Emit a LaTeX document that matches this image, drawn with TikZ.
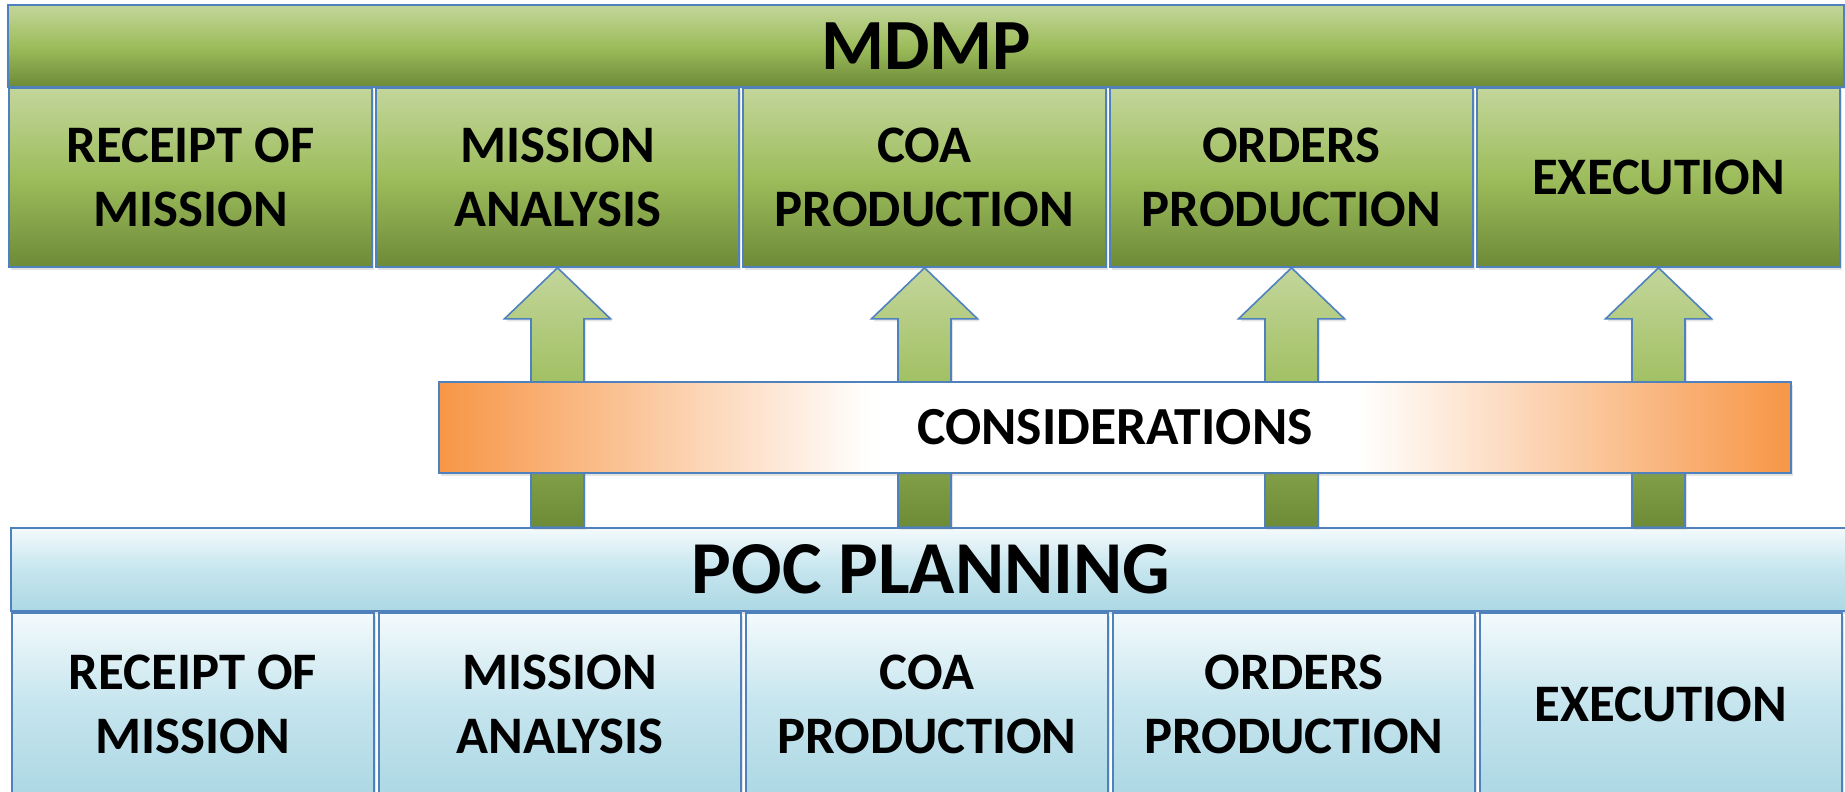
\documentclass[tikz,border=0pt]{standalone}
\usepackage{fontspec}
\setmainfont{Carlito}
\usetikzlibrary{calc,shadows}

\definecolor{edgeblue}{HTML}{4F81BD}
\definecolor{oliveTop}{HTML}{C3D69B}
\definecolor{oliveMid}{HTML}{9DBD5C}
\definecolor{oliveLow}{HTML}{6D8A37}
\definecolor{iceTop}{HTML}{F3FAFC}
\definecolor{iceMid}{HTML}{C6E5EE}
\definecolor{iceLow}{HTML}{ACD8E4}
\definecolor{consorange}{HTML}{F79646}

\pgfdeclarehorizontalshading{considershade}{100bp}{color(0bp)=(consorange); color(25bp)=(consorange); color(41bp)=(white); color(59bp)=(white); color(75bp)=(consorange); color(100bp)=(consorange)}

\begin{document}
\begin{tikzpicture}[
  softshadow/.style={drop shadow={opacity=0.22, shadow xshift=0.04cm, shadow yshift=-0.05cm}},
  olive/.style={draw=edgeblue, line width=0.9pt, top color=oliveTop, bottom color=oliveLow, middle color=oliveMid, softshadow},
  ice/.style={draw=edgeblue, line width=0.9pt, top color=iceTop, bottom color=iceLow, middle color=iceMid, softshadow},
  phase/.style={align=center, font=\fontsize{30}{36.5}\selectfont\bfseries},
  mbox/.style={olive, phase, minimum width=7.26cm, minimum height=3.58cm},
  pbox/.style={ice, phase, minimum width=7.24cm, minimum height=3.64cm},
  upshaft/.style={draw=edgeblue, line width=0.9pt, top color=oliveTop, bottom color=oliveLow, middle color=oliveMid, softshadow}
]
\useasboundingbox (0,0) rectangle (36.9,-15.82);

% MDMP row
\node[olive, minimum width=36.72cm, minimum height=1.64cm, font=\fontsize{41}{48}\selectfont\bfseries] (mdmp) at (18.52, -0.92) {MDMP};
\foreach \t [count=\i] in {{RECEIPT OF\\MISSION}, {MISSION\\ANALYSIS}, {COA\\PRODUCTION}, {ORDERS\\PRODUCTION}, {EXECUTION}}
  \node[mbox] (m\i) at ({3.81+7.34*(\i-1)}, -3.55) {\t};

% POC planning row
\node[ice, minimum width=36.8cm, minimum height=1.66cm, font=\fontsize{42.5}{50}\selectfont\bfseries] (poc) at (18.62, -11.39) {POC PLANNING};
\foreach \t [count=\i] in {{RECEIPT OF\\MISSION}, {MISSION\\ANALYSIS}, {COA\\PRODUCTION}, {ORDERS\\PRODUCTION}, {EXECUTION}}
  \node[pbox] (p\i) at ({3.86+7.34*(\i-1)}, -14.08) {\t};

% arrows up into the MDMP steps
\foreach \i in {2,...,5}
  \draw[upshaft] (m\i.south) -- ++(1.06,-1.02) -- ++(-0.53,0) -- ($(m\i.south |- poc.north)+(0.53,0)$) -- ++(-1.06,0) -- ($(m\i.south)+(-0.53,-1.02)$) -- ++(-0.53,0) -- cycle;

% considerations band over the arrows
\node[draw=edgeblue, line width=0.9pt, shade, shading=considershade, softshadow, minimum width=27.04cm, minimum height=1.82cm, phase, font=\fontsize{30.5}{36}\selectfont\bfseries] (cons) at (22.30, -8.55) {CONSIDERATIONS};

\end{tikzpicture}
\end{document}
